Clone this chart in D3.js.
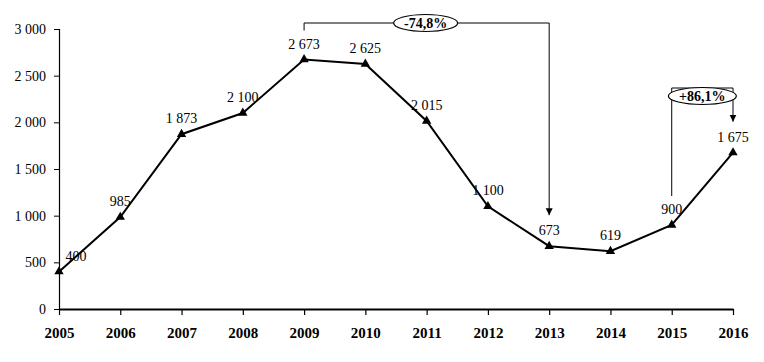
<!DOCTYPE html>
<html>
<head>
<meta charset="utf-8">
<script src="https://cdn.jsdelivr.net/npm/d3@7"></script>
<style>
  body { margin: 0; background: #fff; }
  svg { display: block; font-family: "Liberation Serif", "Times New Roman", serif; }
</style>
</head>
<body>
<div id="chart"></div>
<script>
// data
const years = ["2005", "2006", "2007", "2008", "2009", "2010", "2011", "2012", "2013", "2014", "2015", "2016"];
const values = [400, 985, 1873, 2100, 2673, 2625, 2015, 1100, 673, 619, 900, 1675];
const valueLabels = ["400", "985", "1 873", "2 100", "2 673", "2 625", "2 015", "1 100", "673", "619", "900", "1 675"];
const yTicks = [0, 500, 1000, 1500, 2000, 2500, 3000];
const yTickLabels = ["0", "500", "1 000", "1 500", "2 000", "2 500", "3 000"];
// change annotations: from year, to year, text
const changeFrom = ["2009", "2015"];
const changeTo = ["2013", "2016"];
const changeText = ["-74,8%", "+86,1%"];

const width = 764;
const height = 362;

const svg = d3.select('#chart')
  .append('svg')
  .attr('width', width)
  .attr('height', height);

const x = d3.scalePoint()
  .domain(years)
  .range([59, 733]);

const y = d3.scaleLinear()
  .domain([0, 3000])
  .range([309, 29]);

const data = years.map((yr, i) => ({ year: yr, value: values[i], label: valueLabels[i] }));

// arrow marker
svg.append('defs').append('marker')
  .attr('id', 'arrow')
  .attr('viewBox', '0 0 10 10')
  .attr('refX', 10)
  .attr('refY', 5)
  .attr('markerUnits', 'userSpaceOnUse')
  .attr('markerWidth', 7)
  .attr('markerHeight', 8)
  .attr('orient', 'auto')
  .append('path')
  .attr('d', 'M0,0 L10,5 L0,10 Z')
  .attr('fill', '#000');

// y axis
const yAxis = d3.axisLeft(y)
  .tickValues(yTicks)
  .tickFormat((d, i) => yTickLabels[i])
  .tickSize(5)
  .tickPadding(8);

const gy = svg.append('g')
  .attr('transform', 'translate(59,0)')
  .call(yAxis);
gy.select('.domain').attr('stroke', '#000').attr('stroke-width', 1.2);
gy.selectAll('.tick line').attr('stroke', '#000');
gy.selectAll('.tick text')
  .attr('fill', '#000')
  .style('font-size', '14px')
  .style('font-family', '"Liberation Serif", serif');

// x axis
const xAxis = d3.axisBottom(x)
  .tickSize(6)
  .tickSizeOuter(0)
  .tickPadding(12);

const gx = svg.append('g')
  .attr('transform', `translate(0,${y(0)})`)
  .call(xAxis);
gx.select('.domain').attr('stroke', '#000').attr('stroke-width', 2.2);
gx.selectAll('.tick line').attr('stroke', '#000').attr('stroke-width', 1.2);
gx.selectAll('.tick text')
  .attr('fill', '#000')
  .style('font-size', '15px')
  .style('font-weight', 'bold')
  .style('font-family', '"Liberation Serif", serif');

// line
const line = d3.line()
  .x(d => x(d.year))
  .y(d => y(d.value));

svg.append('path')
  .datum(data)
  .attr('d', line)
  .attr('fill', 'none')
  .attr('stroke', '#000')
  .attr('stroke-width', 2);

// triangle markers
svg.selectAll('.pt')
  .data(data)
  .join('path')
  .attr('class', 'pt')
  .attr('transform', d => `translate(${x(d.year)},${y(d.value)})`)
  .attr('d', d3.symbol().type(d3.symbolTriangle).size(38))
  .attr('fill', '#000');

// value labels
svg.selectAll('.val')
  .data(data)
  .join('text')
  .attr('class', 'val')
  .attr('x', (d, i) => x(d.year) + (i === 0 ? 17 : 0))
  .attr('y', d => y(d.value) - 11)
  .attr('text-anchor', 'middle')
  .style('font-size', '14px')
  .attr('fill', '#000')
  .text(d => d.label);

// change brackets
const brackets = changeFrom.map((f, i) => {
  const vFrom = values[years.indexOf(f)];
  const vTo = values[years.indexOf(changeTo[i])];
  return { from: f, to: changeTo[i], vFrom, vTo, text: changeText[i] };
});

brackets.forEach((b, i) => {
  const x0 = x(b.from), x1 = x(b.to);
  const top = i === 0 ? 23 : 88;
  const y0 = y(b.vFrom) - 29;
  const y1 = y(b.vTo) - 31;
  svg.append('path')
    .attr('d', `M${x0},${y0} V${top} H${x1} V${y1}`)
    .attr('fill', 'none')
    .attr('stroke', '#000')
    .attr('stroke-width', 1)
    .attr('marker-end', 'url(#arrow)');

  const cx = i === 0 ? (x0 + x1) / 2 - 1 : (x0 + x1) / 2;
  const cy = i === 0 ? top : top + 8;
  svg.append('ellipse')
    .attr('cx', cx)
    .attr('cy', cy)
    .attr('rx', i === 0 ? 32 : 34)
    .attr('ry', 8.5)
    .attr('fill', '#fff')
    .attr('stroke', '#000')
    .attr('stroke-width', 1.2);

  svg.append('text')
    .attr('x', cx)
    .attr('y', cy + 5)
    .attr('text-anchor', 'middle')
    .style('font-size', '14px')
    .style('font-weight', 'bold')
    .attr('fill', '#000')
    .text(b.text);
});
</script>
</body>
</html>
